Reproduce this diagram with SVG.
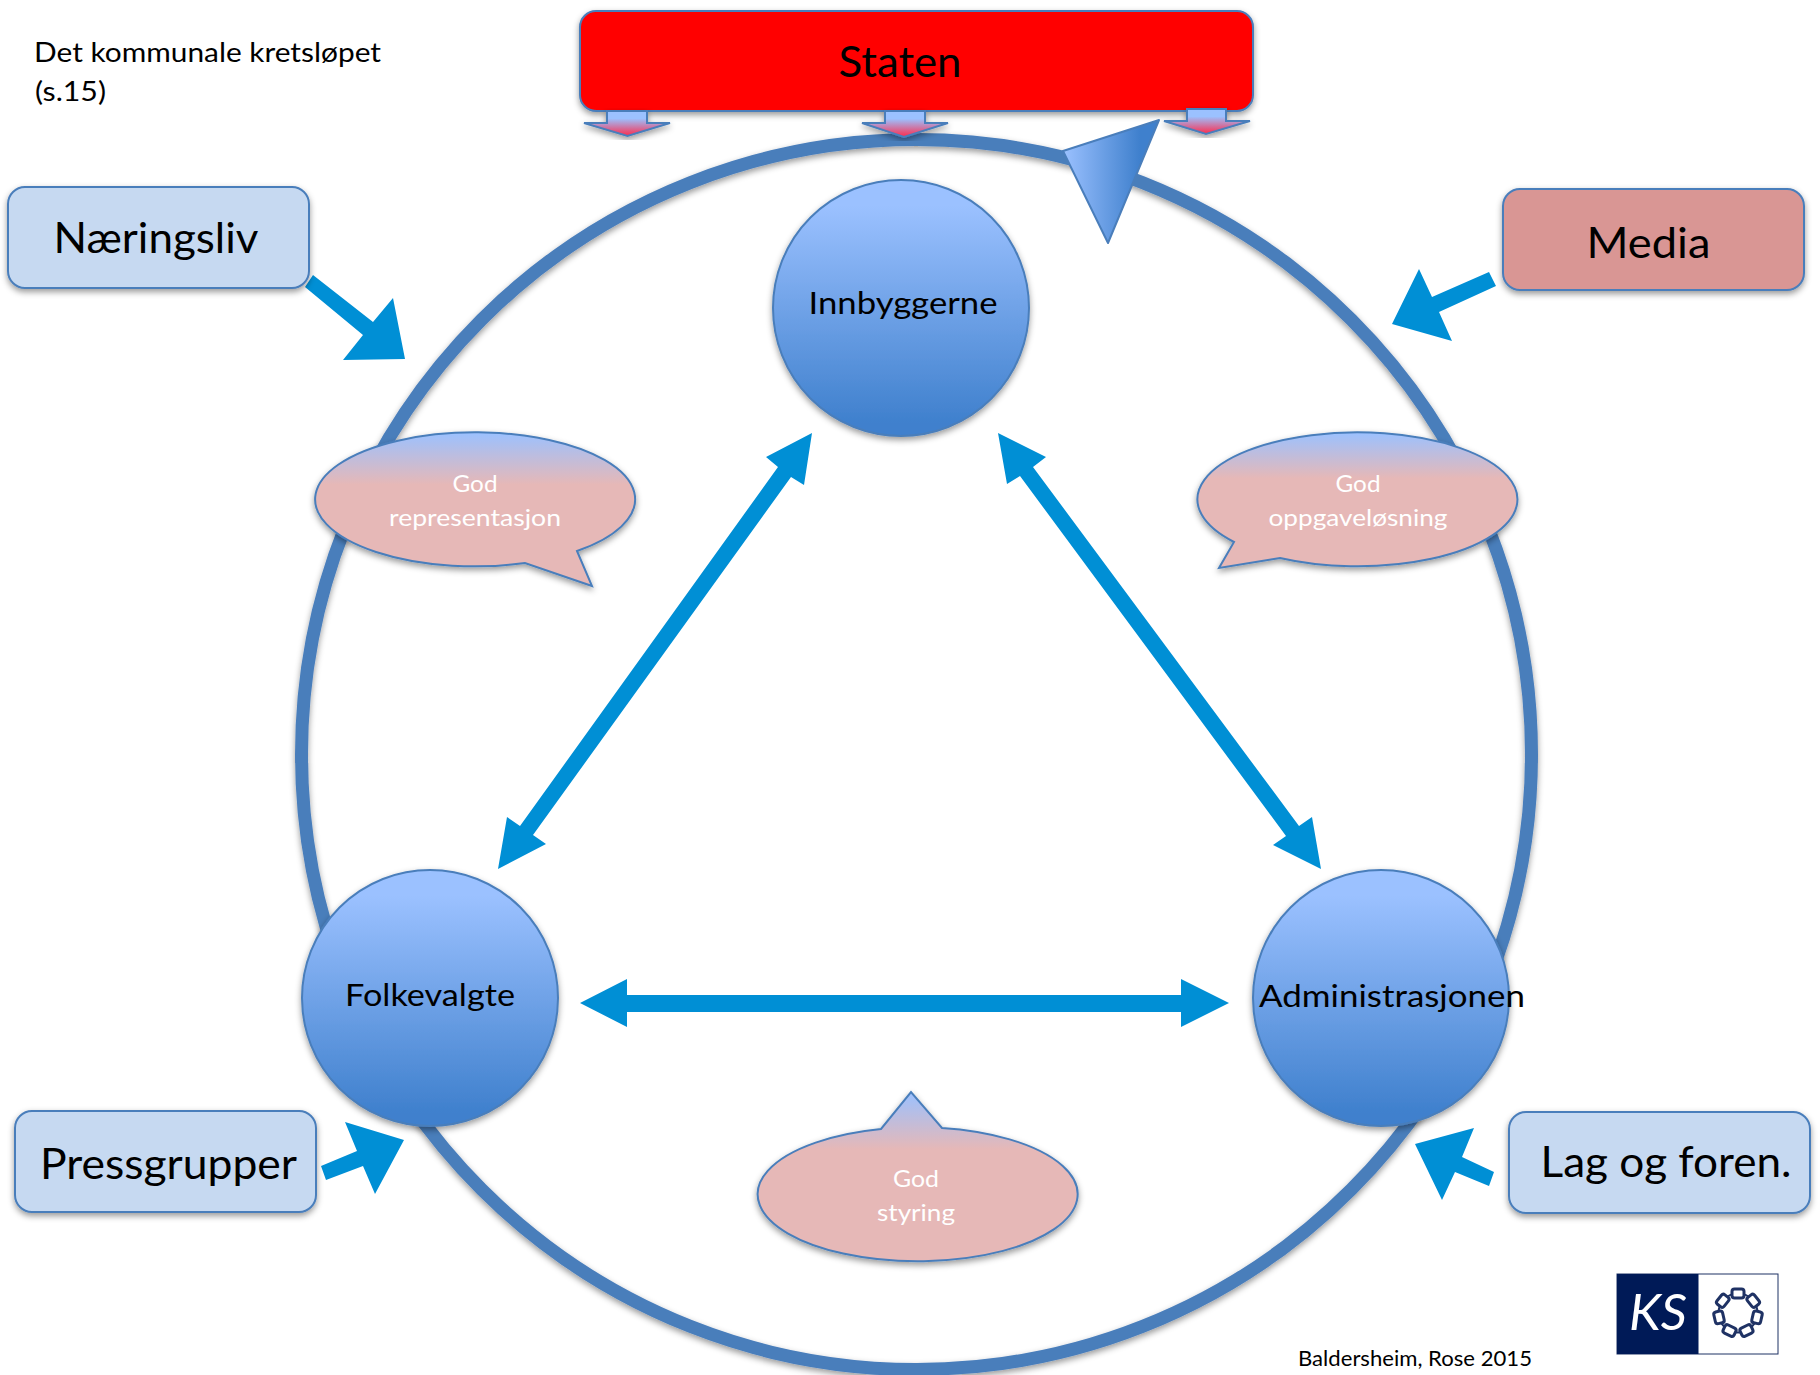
<svg xmlns="http://www.w3.org/2000/svg" xmlns:xlink="http://www.w3.org/1999/xlink" width="1820" height="1375" viewBox="0 0 1820 1375">
<style>
text{font-family:"Lato","Carlito","Liberation Sans",sans-serif;fill:#000}
.big{font-size:43px}
.mid{font-size:31px}
.note{font-size:26px}
.say{font-size:24px;fill:#fff}
.line{stroke:#4a7ebb;stroke-width:2}
.arrow{fill:#008fd5}
.box{fill:#c6d9f1;stroke:#4a7ebb;stroke-width:2}
</style>
<defs>
<linearGradient id="sphere" x1="0" y1="0" x2="0" y2="1"><stop offset="0.1" stop-color="#9bc1ff"/><stop offset="0.95" stop-color="#3f80cd"/></linearGradient>
<linearGradient id="tip" x1="0" y1="0" x2="1" y2="0"><stop offset="0" stop-color="#9bc1ff"/><stop offset="0.8" stop-color="#3f80cd"/></linearGradient>
<linearGradient id="drop" x1="0" y1="0" x2="0" y2="1"><stop offset="0.3" stop-color="#9bc1ff"/><stop offset="1" stop-color="#ff2a4a"/></linearGradient>
<linearGradient id="say" x1="0" y1="0" x2="0" y2="1"><stop offset="0" stop-color="#9bc1ff"/><stop offset="0.34" stop-color="#e6b8b7"/></linearGradient>
<filter id="shadow" x="-10%" y="-10%" width="120%" height="125%"><feDropShadow dx="0" dy="3" stdDeviation="3" flood-color="#000" flood-opacity="0.4"/></filter>
<rect id="link" x="-6" y="-4.5" width="12" height="9" rx="2.5" fill="#fff" stroke="#1f3264" stroke-width="3"/>
</defs>
<rect width="1820" height="1375" fill="#fff"/>

<g id="node-staten">
<rect x="580" y="11" width="673" height="100" rx="16" fill="#f00" stroke="#4a7ebb" stroke-width="2" filter="url(#shadow)"/>
<text class="big" x="900" y="77" text-anchor="middle" textLength="123" lengthAdjust="spacingAndGlyphs">Staten</text>
</g>

<g id="connectors">
<circle cx="916.500" cy="754.500" r="615" fill="none" stroke="#4a7ebb" stroke-width="13" filter="url(#shadow)"/>
<polygon points="1063,151 1159,120 1108,243" fill="url(#tip)" stroke="#4a7ebb" stroke-width="2" stroke-linejoin="round"/>
<polygon class="line" fill="url(#drop)" filter="url(#shadow)" points="607,111 647,111 647,123 670,123 627.500,136 584,123 607,123"/>
<polygon class="line" fill="url(#drop)" filter="url(#shadow)" points="885,111 925,111 925,123 948,123 904,137 862,123 885,123"/>
<polygon class="line" fill="url(#drop)" filter="url(#shadow)" points="1187,109 1226,109 1226,121 1250,121 1206,134 1164,121 1187,121"/>
<polygon class="arrow" points="313,275 373,322 393,298 405,359 343,360 363,335 305,287"/>
<polygon class="arrow" points="1489,272 1432,297 1419,269 1392,324 1452,341 1439,312 1496,286"/>
<polygon class="arrow" points="321,1166 357,1151 345,1122 404,1140 375,1194 363,1166 326,1180"/>
<polygon class="arrow" points="1494,1172 1462,1157 1474,1128 1415,1144 1442,1200 1455,1172 1489,1186"/>
<polygon class="arrow" points="812,433 804,485 791,477 533,835 546,844 498,869 507,817 520,826 778,467 766,457"/>
<polygon class="arrow" points="998,433 1046,457 1033,467 1299,826 1312,817 1321,869 1273,845 1286,836 1020,476 1007,484"/>
<polygon class="arrow" points="580,1003 627,979 627,995 1181,995 1181,979 1229,1003 1181,1027 1181,1012 627,1012 627,1027"/>
</g>

<g id="node-title">
<text class="note" x="34" y="62" textLength="347" lengthAdjust="spacingAndGlyphs">Det kommunale kretsløpet</text>
<text class="note" x="35" y="101" textLength="71" lengthAdjust="spacingAndGlyphs">(s.15)</text>
</g>

<g id="node-innbyggerne">
<circle cx="901" cy="308" r="128" fill="url(#sphere)" stroke="#4a7ebb" stroke-width="2" filter="url(#shadow)"/>
<text class="mid" x="903" y="314" text-anchor="middle" textLength="189" lengthAdjust="spacingAndGlyphs">Innbyggerne</text>
</g>
<g id="node-folkevalgte">
<circle cx="430" cy="998" r="128" fill="url(#sphere)" stroke="#4a7ebb" stroke-width="2" filter="url(#shadow)"/>
<text class="mid" x="430" y="1006" text-anchor="middle" textLength="170" lengthAdjust="spacingAndGlyphs">Folkevalgte</text>
</g>
<g id="node-administrasjonen">
<circle cx="1381" cy="998" r="128" fill="url(#sphere)" stroke="#4a7ebb" stroke-width="2" filter="url(#shadow)"/>
<text class="mid" x="1392" y="1007" text-anchor="middle" textLength="266" lengthAdjust="spacingAndGlyphs">Administrasjonen</text>
</g>

<g id="node-naeringsliv">
<rect class="box" x="8" y="187" width="301" height="101" rx="17" filter="url(#shadow)"/>
<text class="big" x="156" y="253" text-anchor="middle" textLength="205" lengthAdjust="spacingAndGlyphs">Næringsliv</text>
</g>
<g id="node-media">
<rect x="1503" y="189" width="301" height="101" rx="17" fill="#d99694" stroke="#4a7ebb" stroke-width="2" filter="url(#shadow)"/>
<text class="big" x="1648.500" y="258" text-anchor="middle" textLength="124" lengthAdjust="spacingAndGlyphs">Media</text>
</g>
<g id="node-pressgrupper">
<rect class="box" x="15" y="1111" width="301" height="101" rx="17" filter="url(#shadow)"/>
<text class="big" x="168.500" y="1179" text-anchor="middle" textLength="257" lengthAdjust="spacingAndGlyphs">Pressgrupper</text>
</g>
<g id="node-lag">
<rect class="box" x="1509" y="1112" width="301" height="101" rx="17" filter="url(#shadow)"/>
<text class="big" x="1666" y="1177" text-anchor="middle" textLength="251" lengthAdjust="spacingAndGlyphs">Lag og foren.</text>
</g>

<g id="node-representasjon">
<path class="line" fill="url(#say)" filter="url(#shadow)" d="M525,563 A160,67 0 1 1 577,551 L592,586 Z"/>
<text class="say" x="475" y="492" text-anchor="middle" textLength="45" lengthAdjust="spacingAndGlyphs">God</text>
<text class="say" x="475" y="526" text-anchor="middle" textLength="172" lengthAdjust="spacingAndGlyphs">representasjon</text>
</g>
<g id="node-oppgavelosning">
<path class="line" fill="url(#say)" filter="url(#shadow)" d="M1280,558 A160,67 0 1 0 1234,542 L1219,568 Z"/>
<text class="say" x="1358" y="492" text-anchor="middle" textLength="45" lengthAdjust="spacingAndGlyphs">God</text>
<text class="say" x="1358" y="526" text-anchor="middle" textLength="179" lengthAdjust="spacingAndGlyphs">oppgaveløsning</text>
</g>
<g id="node-styring">
<path class="line" fill="url(#say)" filter="url(#shadow)" d="M942,1128 A160,67 0 1 1 881,1129 L911,1092 Z"/>
<text class="say" x="916" y="1187" text-anchor="middle" textLength="46" lengthAdjust="spacingAndGlyphs">God</text>
<text class="say" x="916" y="1221" text-anchor="middle" textLength="78" lengthAdjust="spacingAndGlyphs">styring</text>
</g>

<g id="node-source">
<text x="1298" y="1366" font-size="20.500" textLength="234" lengthAdjust="spacingAndGlyphs">Baldersheim, Rose 2015</text>
</g>

<g id="node-logo">
<rect x="1617" y="1274" width="161" height="80" fill="#fff" stroke="#1f3264" stroke-width="1"/>
<rect x="1617" y="1274" width="81.500" height="80" fill="#001a57"/>
<text x="1629" y="1330" font-size="50" font-style="italic" font-weight="400" style="fill:#fff" textLength="58" lengthAdjust="spacingAndGlyphs">KS</text>
<circle cx="1738" cy="1313" r="19.500" fill="none" stroke="#1f3264" stroke-width="2"/>
<g transform="translate(1738 1313)">
<use xlink:href="#link" href="#link" transform="rotate(0) translate(0 -19.500)"/>
<use xlink:href="#link" href="#link" transform="rotate(51.400) translate(0 -19.500)"/>
<use xlink:href="#link" href="#link" transform="rotate(102.900) translate(0 -19.500)"/>
<use xlink:href="#link" href="#link" transform="rotate(154.300) translate(0 -19.500)"/>
<use xlink:href="#link" href="#link" transform="rotate(205.700) translate(0 -19.500)"/>
<use xlink:href="#link" href="#link" transform="rotate(257.100) translate(0 -19.500)"/>
<use xlink:href="#link" href="#link" transform="rotate(308.600) translate(0 -19.500)"/>
</g>
</g>
</svg>
